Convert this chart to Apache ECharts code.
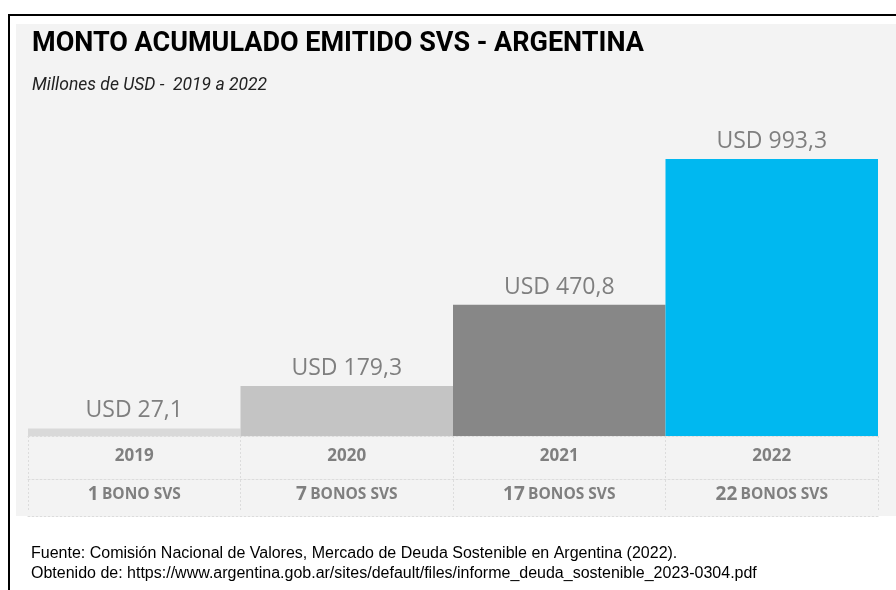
<!DOCTYPE html>
<html>
<head>
<meta charset="utf-8">
<script src="https://cdn.jsdelivr.net/npm/echarts@6/dist/echarts.min.js"></script>
<style>
html,body{margin:0;padding:0;background:#fff;}
#chart{width:896px;height:590px;}
</style>
</head>
<body>
<div id="chart"></div>
<script>
var years = ['2019', '2020', '2021', '2022'];
var amounts = [27.1, 179.3, 470.8, 993.3];
var bondCounts = [1, 7, 17, 22];
var bondWords = ['BONO SVS', 'BONOS SVS', 'BONOS SVS', 'BONOS SVS'];
var barColors = ['#d9d9d9', '#c4c4c4', '#878787', '#00b8f0'];

var chart = echarts.init(document.getElementById('chart'));

function fmt(v) { return 'USD ' + String(v).replace('.', ','); }

var dotted = { color: '#dcdcdc', width: 1, type: [2, 2] };

var option = {
  backgroundColor: '#ffffff',
  animation: false,
  graphic: [
    { type: 'rect', z: -10, shape: { x: 9, y: 15, width: 900, height: 600 },
      style: { fill: '#ffffff', stroke: '#000000', lineWidth: 2 } },
    { type: 'rect', z: -9, shape: { x: 16, y: 24, width: 880, height: 492 },
      style: { fill: '#f3f3f3' } },
    { type: 'text', left: 31, top: 544,
      style: { text: 'Fuente: Comisión Nacional de Valores, Mercado de Deuda Sostenible en Argentina (2022).\nObtenido de: https://www.argentina.gob.ar/sites/default/files/informe_deuda_sostenible_2023-0304.pdf',
        fill: '#000000', font: '16px "Liberation Sans", Arial, sans-serif', lineHeight: 20 } }
  ],
  title: [
    { text: 'MONTO ACUMULADO EMITIDO SVS - ARGENTINA', left: 27, top: 26,
      textStyle: { fontFamily: 'Roboto', fontWeight: 'bold', fontSize: 27, color: '#000000' } },
    { text: 'Millones de USD -  2019 a 2022', left: 27, top: 72,
      textStyle: { fontFamily: 'Roboto', fontStyle: 'italic', fontWeight: 'normal', fontSize: 17.5, color: '#222222' } }
  ],
  grid: { left: 28, right: 18, top: 159, height: 277, containLabel: false },
  xAxis: [
    {
      type: 'category', data: years, position: 'bottom', offset: 5,
      axisLine: { show: true, lineStyle: dotted },
      axisTick: { show: true, length: 75, lineStyle: dotted, interval: 0 },
      axisLabel: {
        interval: 0, margin: 1,
        formatter: function (val, idx) {
          return '{y|' + val + '}\n{n|' + bondCounts[idx] + '} {b|' + bondWords[idx] + '}';
        },
        rich: {
          y: { fontFamily: 'Open Sans', fontWeight: 'bold', fontSize: 17, color: '#7f7f7f', lineHeight: 29, height: 29 },
          n: { fontFamily: 'Open Sans', fontWeight: 'bold', fontSize: 19, color: '#7f7f7f', lineHeight: 48 },
          b: { fontFamily: 'Open Sans', fontWeight: 'bold', fontSize: 15.5, color: '#7f7f7f', lineHeight: 48 }
        }
      }
    },
    {
      type: 'category', data: years, position: 'bottom', offset: 43,
      axisLine: { show: true, lineStyle: dotted },
      axisTick: { show: false }, axisLabel: { show: false }
    },
    {
      type: 'category', data: years, position: 'bottom', offset: 80,
      axisLine: { show: true, lineStyle: dotted },
      axisTick: { show: false }, axisLabel: { show: false }
    }
  ],
  yAxis: {
    type: 'value', min: 0, max: 993.3, show: false, splitLine: { show: false }
  },
  series: [{
    type: 'bar',
    xAxisIndex: 0,
    barCategoryGap: 0,
    data: amounts.map(function (v, i) { return { value: v, itemStyle: { color: barColors[i] } }; }),
    label: {
      show: true, position: 'top', distance: 6,
      formatter: function (p) { return fmt(p.value); },
      fontFamily: 'Open Sans', fontSize: 23, color: '#7f7f7f'
    }
  }]
};
chart.setOption(option);
</script>
</body>
</html>
